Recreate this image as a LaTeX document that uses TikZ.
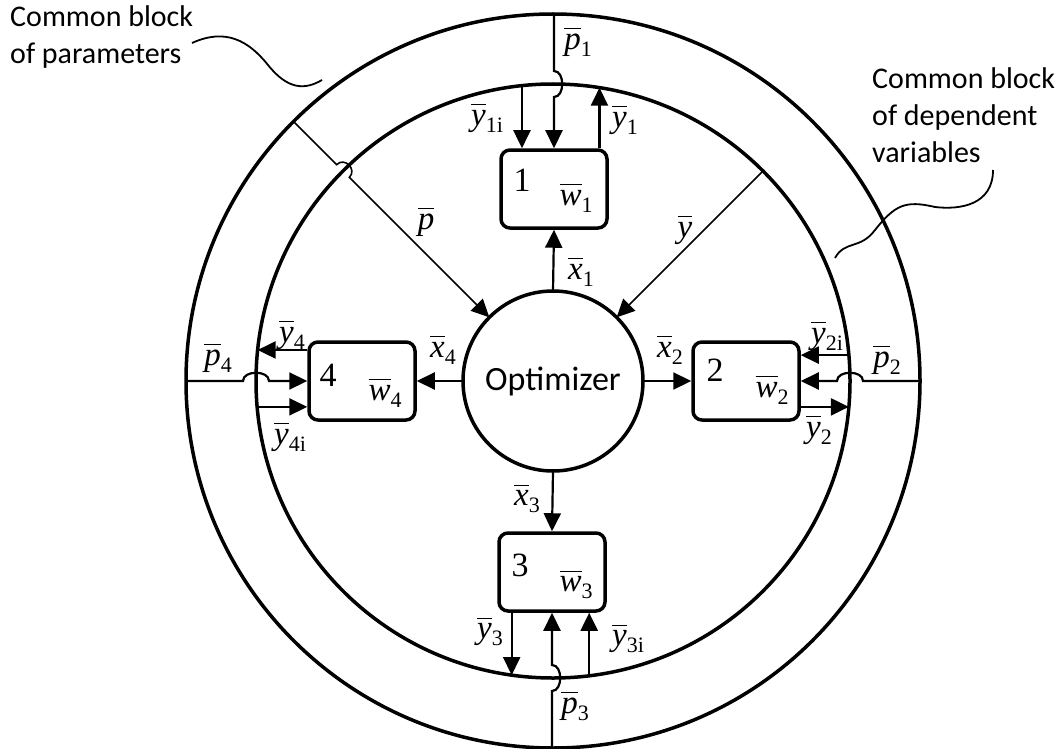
\documentclass[tikz,border=0pt]{standalone}
\usepackage{fontspec}
\setmainfont{Liberation Serif}
\newfontfamily\carlito{Carlito}
\usetikzlibrary{arrows.meta,calc}
\newcommand\ovb[1]{\vbox{\hrule height 1.5pt\kern4.5pt\hbox{#1}}}
\newcommand\vl[2]{\fontsize{33}{33}\selectfont\ovb{\itshape #1}\raisebox{-7pt}{\fontsize{22}{22}\selectfont #2}}
\newcommand\vlz[1]{\fontsize{33}{33}\selectfont\ovb{\itshape #1}}
\tikzset{
 ring/.style={circle, draw, line width=3.5pt, outer sep=0pt, inner sep=0pt},
 blk/.style={draw, rounded corners=9pt, line width=3.5pt, minimum width=106pt, minimum height=78pt, inner sep=0pt},
 arr/.style={line width=2.2pt, -{Triangle[length=18pt,width=17pt]}},
 darr/.style={line width=1.6pt, -{Triangle[length=18pt,width=17pt]}},
 wire/.style={line width=1.8pt},
 lbl/.style={inner sep=0pt},
 num/.style={inner sep=0pt, font=\fontsize{34}{34}\selectfont},
 note/.style={inner sep=0pt, align=left, anchor=north west, font=\carlito\fontsize{30}{37}\selectfont},
}
\begin{document}
\begin{tikzpicture}[x=1pt,y=-1pt]
\useasboundingbox (0,0) rectangle (1062,749);
\coordinate (c) at (553,381);
\node[ring, minimum size=734pt] (outer) at (c) {};
\node[ring, minimum size=594pt] (inner) at (c) {};
\node[ring, minimum size=180pt, font=\carlito\fontsize{34}{34}\selectfont] (opt) at (c) {Optimizer};
% blocks
\node[blk] (b1) at (554,189) {};
\node[blk] (b2) at (746,381) {};
\node[blk] (b3) at (552,572) {};
\node[blk] (b4) at (362,381) {};
\node[num] (n1) at (522,180) {1};
\node[num] (n2) at (715,370) {2};
\node[num] (n3) at (520,565) {3};
\node[num] (n4) at (328,375) {4};
\node[lbl] (w1) at (576,198) {\vl{w}{1}};
\node[lbl] (w2) at (772,390) {\vl{w}{2}};
\node[lbl] (w3) at (576,585) {\vl{w}{3}};
\node[lbl] (w4) at (385,393) {\vl{w}{4}};
% optimizer to blocks
\draw[arr] (opt.north) -- (b1.south);
\draw[arr] (opt.east) -- (b2.west);
\draw[arr] (opt.south) -- (b3.north);
\draw[arr] (opt.west) -- (b4.east);
% block 1
\draw[arr] (inner.96.96) -- (inner.96.96 |- b1.north);
\draw[arr] (inner.81.68 |- b1.north) -- (inner.81.68);
\coordinate (p1a) at ($(b1.north |- inner.90)+(0,-13)$);
\coordinate (p1b) at ($(b1.north |- inner.90)+(0,13)$);
\draw[arr] (b1.north |- outer.90) -- (p1a) .. controls ($(p1a)+(11,0)$) and ($(p1b)+(11,0)$) .. (p1b) -- (b1.north);
% block 3
\draw[arr] (inner.262.45 |- b3.south) -- (inner.262.45);
\draw[arr] (inner.277.74) -- (inner.277.74 |- b3.south);
\coordinate (p3a) at ($(b3.south |- inner.270)+(0,13)$);
\coordinate (p3b) at ($(b3.south |- inner.270)+(0,-13)$);
\draw[arr] (b3.south |- outer.270) -- (p3a) .. controls ($(p3a)+(11,0)$) and ($(p3b)+(11,0)$) .. (p3b) -- (b3.south);
% block 4
\draw[arr] (b4.west |- inner.174.78) -- (inner.174.78);
\draw[arr] (inner.185.6) -- (b4.west |- inner.185.6);
\coordinate (p4a) at ($(inner.180)+(-13,0)$);
\coordinate (p4b) at ($(inner.180)+(13,0)$);
\draw[arr] (outer.180) -- (p4a) .. controls ($(p4a)+(0,-11)$) and ($(p4b)+(0,-11)$) .. (p4b) -- (b4.west);
% block 2
\draw[arr] (inner.5.8) -- (b2.east |- inner.5.8);
\draw[arr] (b2.east |- inner.355.17) -- (inner.355.17);
\coordinate (p2a) at ($(inner.0)+(13,0)$);
\coordinate (p2b) at ($(inner.0)+(-13,0)$);
\draw[arr] (outer.0) -- (p2a) .. controls ($(p2a)+(0,-11)$) and ($(p2b)+(0,-11)$) .. (p2b) -- (b2.east);
% diagonals
\coordinate (ja) at ($(inner.135)!9pt!(outer.135)$);
\coordinate (jb) at ($(inner.135)!9pt!(opt.135)$);
\draw[darr] (outer.135) -- (ja) .. controls ($(ja)+(8,-8)$) and ($(jb)+(8,-8)$) .. (jb) -- (opt.135);
\draw[darr] (inner.45) -- (opt.45);
% labels
\node[lbl] (lp1) at (578,42) {\vl{p}{1}};
\node[lbl] (ly1i) at (487,118) {\vl{y}{1i}};
\node[lbl] (ly1) at (625,120) {\vl{y}{1}};
\node[lbl] (lp) at (426,222) {\vlz{p}};
\node[lbl] (ly) at (685,230) {\vlz{y}};
\node[lbl] (lx1) at (581,272) {\vl{x}{1}};
\node[lbl] (lx4) at (443,350) {\vl{x}{4}};
\node[lbl] (lx2) at (670,350) {\vl{x}{2}};
\node[lbl] (lx3) at (527,499) {\vl{x}{3}};
\node[lbl] (ly4) at (292,335) {\vl{y}{4}};
\node[lbl] (lp4) at (218,358) {\vl{p}{4}};
\node[lbl] (ly4i) at (290,437) {\vl{y}{4i}};
\node[lbl] (ly2i) at (827,336) {\vl{y}{2i}};
\node[lbl] (lp2) at (887,360) {\vl{p}{2}};
\node[lbl] (ly2) at (819,430) {\vl{y}{2}};
\node[lbl] (ly3) at (490,632) {\vl{y}{3}};
\node[lbl] (ly3i) at (628,639) {\vl{y}{3i}};
\node[lbl] (lp3) at (575,706) {\vl{p}{3}};
% callouts
\node[note] (cbp) at (10,5) {Common block\\of parameters};
\node[note] (cbd) at (872,67) {Common block\\of dependent\\variables};
\coordinate (k1) at (192,43);
\coordinate (k2) at (322,80);
\draw[wire] (k1) .. controls (225,28) and (248,40) .. (268,65) .. controls (288,90) and (305,90) .. (k2);
\coordinate (k3) at (993,170);
\coordinate (k4) at (835,258);
\draw[wire] (k3) .. controls (993,205) and (960,210) .. (935,207) .. controls (905,200) and (895,205) .. (875,230) .. controls (860,250) and (845,240) .. (k4);
\end{tikzpicture}
\end{document}
